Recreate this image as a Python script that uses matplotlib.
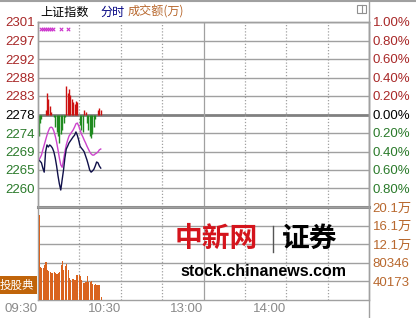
import numpy as np
import matplotlib
matplotlib.use("Agg")
import matplotlib.pyplot as plt
from matplotlib.lines import Line2D
from matplotlib.patches import Rectangle

plt.rcParams['font.family'] = ['Liberation Sans', 'Noto Sans CJK SC']

# previous close and minute data (minutes after 09:30)
base = 2278.4
minutes = np.arange(46)
price = [2267.2, 2266.9, 2266.5, 2265.2, 2264.2, 2269.2, 2270.9, 2270.4, 2270.9, 2270.6,
         2270.1, 2269.2, 2267.7, 2265.7, 2263.3, 2261.3, 2259.8, 2262.3, 2264.7, 2267.7,
         2269.9, 2270.6, 2271.4, 2271.9, 2272.4, 2272.9, 2273.3, 2274.1, 2273.3, 2272.1,
         2270.6, 2270.1, 2269.7, 2269.2, 2268.2, 2267.2, 2266.0, 2264.7, 2264.2, 2264.5,
         2264.9, 2265.7, 2266.7, 2266.5, 2265.7, 2265.2]
avg = [2267.2, 2267.7, 2268.4, 2269.7, 2270.9, 2272.1, 2273.3, 2274.3, 2275.1, 2275.3,
       2275.1, 2274.3, 2273.1, 2271.6, 2269.7, 2267.7, 2266.0, 2265.4, 2267.2, 2269.2,
       2270.9, 2272.1, 2273.1, 2273.6, 2274.1, 2274.6, 2275.3, 2276.1, 2276.3, 2275.6,
       2274.6, 2273.6, 2272.9, 2272.1, 2271.4, 2270.6, 2269.9, 2269.2, 2268.7, 2268.4,
       2268.4, 2268.7, 2268.9, 2269.2, 2269.7, 2269.9]
# red / green strength bars, in index points off the previous close
strength = [-5.2, -2.0, -1.2, 0, 0, 1.2, 5.2, 3.7, 2.0, 0.7,
            0, -0.7, -3.0, -4.4, -5.4, -6.9, -4.9, -3.7, -2.0, -0.5,
            6.9, 5.4, 6.2, 4.9, 3.7, 3.0, 2.5, 3.4, 3.0, 0,
            -2.5, -3.7, -4.4, 1.2, 0.7, -2.0, -3.7, -5.4, -5.9, -4.9,
            -3.0, -1.2, 0, 1.0, 1.5, 1.0]
volume = [184500, 72000, 70000, 69000, 76000, 83000, 65000, 63000, 61000, 58000,
          59000, 61000, 58000, 57000, 58000, 61000, 76000, 85000, 65000, 74000,
          77000, 65000, 47000, 43000, 46000, 45000, 43000, 53000, 55000, 53000,
          51000, 43000, 36000, 37000, 38000, 51000, 39000, 38000, 40000, 34000,
          33000, 34000, 33000, 32000, 33000, 6500]
marks = [2, 3.5, 5, 6.5, 8, 9.5, 11, 16.5, 21.5]

price_labels = ['2301', '2297', '2292', '2288', '2283', '2278', '2274', '2269', '2265', '2260']
pct_labels = ['1.00%', '0.80%', '0.60%', '0.40%', '0.20%', '0.00%', '0.20%', '0.40%', '0.60%', '0.80%']
vol_step = 40173
vol_labels = ['40173', '80346', '12.1万', '16.1万', '20.1万']
time_ticks = [0, 60, 120, 180]
time_labels = ['09:30', '10:30', '13:00', '14:00']

red = '#a82828'
green = '#2a7a2a'
grid = '#a0a0a0'

fig = plt.figure(figsize=(4.16, 3.18), dpi=100)
W, H = 416.0, 318.0
ax = fig.add_axes([38 / W, 1 - 207 / H, 331 / W, 185 / H])
axv = fig.add_axes([38 / W, 1 - 300 / H, 331 / W, 93 / H])

pct = np.arange(1.0, -1.01, -0.2)
levels = base * (1 + pct / 100)
ax.set_xlim(0, 240)
ax.set_ylim(levels[-1], levels[0])
for lv, p in zip(levels, pct):
    if abs(p) < 1e-9:
        ax.axhline(lv, color='#808080', lw=2, zorder=1)
    else:
        ax.axhline(lv, color=grid, lw=1, zorder=1)
for m in range(30, 240, 30):
    ls = '-' if m == 120 else (0, (1, 1.5))
    ax.axvline(m, color=grid, lw=0.9, ls=ls, zorder=1)
    axv.axvline(m, color=grid, lw=0.9, ls=ls, zorder=1)

ax.set_yticks(levels[:-1])
ax.set_yticklabels(price_labels)
ax.tick_params(axis='y', length=0, pad=2.5, labelsize=9.5)
ax.set_xticks([])
for i, t in enumerate(ax.get_yticklabels()):
    t.set_color(red if i < 5 else ('black' if i == 5 else green))
ax2 = ax.twinx()
ax2.set_ylim(ax.get_ylim())
ax2.set_yticks(levels[:-1])
ax2.set_yticklabels(pct_labels)
ax2.tick_params(axis='y', length=0, pad=2.5, labelsize=9.5)
for i, t in enumerate(ax2.get_yticklabels()):
    t.set_color(red if i < 5 else ('black' if i == 5 else green))

x = minutes + 0.5
cols = ['#cc1010' if s > 0 else '#1f8a1f' for s in strength]
ax.vlines(x, base, base + np.array(strength), colors=cols, lw=1.0, zorder=2)
ax.plot(x, avg, color='#cc44cc', lw=1.0, zorder=3)
ax.plot(x, price, color='#10104a', lw=1.0, zorder=4)
ax.scatter(marks, [2299.5] * len(marks), marker='x', s=6, lw=0.8, color='#cc33cc', zorder=4)

for a in (ax, ax2, axv):
    for s in a.spines.values():
        s.set_color(grid)
        s.set_linewidth(1)

axv.set_xlim(0, 240)
axv.set_ylim(0, vol_step * 5)
axv.bar(minutes + 0.4, volume, width=0.8, align='edge', color='#d9631e', zorder=3)
for k in range(1, 5):
    axv.axhline(vol_step * k, color=grid, lw=1, zorder=1)
axv.spines['top'].set_linewidth(2.2)
axv.spines['top'].set_color('#8c8c8c')
axv.yaxis.tick_right()
axv.set_yticks([vol_step * k for k in range(1, 6)])
axv.set_yticklabels(vol_labels)
axv.tick_params(axis='y', length=0, pad=2.5, labelsize=9.5, labelcolor='#b8682e')
axv.set_xticks(time_ticks)
axv.set_xticklabels(time_labels, ha='right')
axv.tick_params(axis='x', length=0, pad=2, labelsize=9.5, labelcolor='#8a8a8a')

# frame lines and header
fig.add_artist(Line2D([0, 1], [1 - 1 / H, 1 - 1 / H], color='#a0a0a0', lw=1.5))
fig.add_artist(Line2D([369 / W, 369 / W], [0, 1], color='#a0a0a0', lw=1))
fig.add_artist(Rectangle((357 / W, 1 - 13 / H), 9 / W, 8 / H, fill=False, ec='#909090', lw=0.8))
fig.add_artist(Line2D([361.5 / W, 361.5 / W], [1 - 13 / H, 1 - 5 / H], color='#909090', lw=0.8))
fig.text(40 / W, 1 - 12 / H, '上证指数', fontsize=8.7, va='center', color='black', family='Noto Sans CJK SC')
fig.text(100 / W, 1 - 12 / H, '分时', fontsize=8.7, va='center', color='#000080', family='Noto Sans CJK SC')
fig.text(128 / W, 1 - 12 / H, '成交额(万)', fontsize=8.7, va='center', color='#b8682e', family='Noto Sans CJK SC')
fig.text(0, 1 - 285 / H, '投股典', fontsize=8.3, va='center', ha='left', color='white',
         family='Noto Sans CJK SC',
         bbox=dict(boxstyle='square,pad=0.25', fc='#c0640a', ec='none'))

# watermark
fig.text(175 / W, 1 - 239 / H, '中新网', fontsize=20, va='center', color='#d4141c',
         family='Noto Sans CJK SC', fontweight='bold')
fig.add_artist(Line2D([273 / W, 273 / W], [1 - 252 / H, 1 - 226 / H], color='#555555', lw=1))
fig.text(282 / W, 1 - 239 / H, '证券', fontsize=20, va='center', color='black',
         family='Noto Sans CJK SC', fontweight='heavy')
fig.text(180 / W, 1 - 271 / H, 'stock.chinanews.com', fontsize=11.5, va='center', color='black',
         fontweight='bold')

fig.savefig('out.png', dpi=100)
